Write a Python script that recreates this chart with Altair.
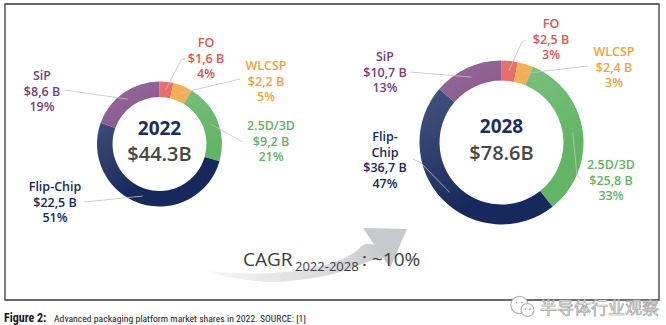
import math
import altair as alt
import pandas as pd

# ---------------- chart values ----------------
segments = ["FO", "WLCSP", "2.5D/3D", "Flip-Chip", "SiP"]
seg_colors = ["#e4534e", "#f2a33a", "#62b565", "#16285c", "#77407d"]
years = ["2022", "2028"]
values_2022 = [1.6, 2.2, 9.2, 22.5, 8.6]
shares_2022 = [4, 5, 21, 51, 19]
values_2028 = [2.5, 2.4, 25.8, 36.7, 10.7]
shares_2028 = [3, 3, 33, 47, 13]
totals = ["$44.3B", "$78.6B"]
cagr_main = "CAGR"
cagr_sub = "2022-2028"
cagr_value = ": ~10%"
caption_bold = "Figure 2:"
caption_rest = "Advanced packaging platform market shares in 2022. SOURCE: [1]"
watermark = "半导体行业观察"

# ---------------- layout (pixels) ----------------
W, H = 666, 325
centers = [(159.5, 144.0), (501.5, 142.5)]
radii = [(62.5, 47.0), (82.0, 62.0)]
label_anchor = [
    [(206, 43), (266, 66), (271, 126), (55, 187), (42, 76)],
    [(551, 24), (614, 52), (611, 165), (385, 137), (385, 57)],
]
name_lines = [
    [["FO"], ["WLCSP"], ["2.5D/3D"], ["Flip-Chip"], ["SiP"]],
    [["FO"], ["WLCSP"], ["2.5D/3D"], ["Flip-", "Chip"], ["SiP"]],
]
leader_start = [
    [[(186, 58), (181, 60)], [(240, 79)], [(243, 142), (239, 140)], [(84, 202)], [(65, 90)]],
    [[(526, 40), (522, 42)], [(588, 66)], [(581, 179), (577, 176)], [(413, 159), (421, 163)], [(410, 72)]],
]
line_h = 15.5
arrow_x = [205, 222, 240, 257, 273, 290, 307, 324, 340, 355, 366, 374, 383]
arrow_lo = [270, 275.5, 279, 281, 282, 281, 279, 276, 272, 267, 262.5, 259.5, 258]
arrow_up = [270, 272.5, 273, 273.5, 273, 271.5, 269, 265, 260, 252, 244, 244.5, 257.5]
head_x = [363, 390, 407]
head_lo = [228, 268, 229]
head_up = [228, 228.6, 229]

FONT = "Open Sans"

all_values = [values_2022, values_2028]
all_shares = [shares_2022, shares_2028]

# ---------------- derived tables ----------------
label_rows, leader_rows = [], []
for d in range(2):
    vals, shares = all_values[d], all_shares[d]
    total = sum(vals)
    cx, cy = centers[d]
    ro, ri = radii[d]
    rm = (ro + ri) / 2
    cum = 0.0
    for i, seg in enumerate(segments):
        ax, ay = label_anchor[d][i]
        lines = name_lines[d][i] + [f"${vals[i]:.1f} B".replace(".", ","), f"{shares[i]}%"]
        for k, t in enumerate(lines):
            label_rows.append({"t": t, "x": ax, "y": ay + k * line_h, "c": seg_colors[i]})
        a = 2 * math.pi * (cum + vals[i] / 2) / total
        cum += vals[i]
        pts = leader_start[d][i] + [(cx + rm * math.sin(a), cy - rm * math.cos(a))]
        for k, (px, py) in enumerate(pts):
            leader_rows.append({"id": f"{d}-{i}", "k": k, "x": px, "y": py})

labels_df = pd.DataFrame(label_rows)
leaders_df = pd.DataFrame(leader_rows)

X = lambda f: alt.X(f, scale=None, axis=None)
Y = lambda f: alt.Y(f, scale=None, axis=None)

layers = []

# frame
layers.append(
    alt.Chart(pd.DataFrame({"a": [0]})).mark_rect(fill=None, stroke="#3a3a3a", strokeWidth=1.3).encode(
        x=alt.value(5), x2=alt.value(659), y=alt.value(4), y2=alt.value(300)
    )
)

# arrow body and head
arrow_df = pd.DataFrame({"x": arrow_x, "lo": arrow_lo, "up": arrow_up})
grad = alt.LinearGradient(
    gradient="linear",
    stops=[alt.GradientStop(color="#f7f7f7", offset=0), alt.GradientStop(color="#c9ccce", offset=1)],
    x1=0, x2=1, y1=0, y2=0,
)
layers.append(
    alt.Chart(arrow_df).mark_area(color=grad, orient="vertical", interpolate="monotone").encode(
        x=X("x:Q"), y=Y("lo:Q"), y2="up:Q"
    )
)
head_df = pd.DataFrame({"x": head_x, "lo": head_lo, "up": head_up})
layers.append(
    alt.Chart(head_df).mark_area(color="#c7cacd", orient="vertical", interpolate="linear").encode(
        x=X("x:Q"), y=Y("lo:Q"), y2="up:Q"
    )
)

# donuts
shade = alt.LinearGradient(
    gradient="linear",
    stops=[
        alt.GradientStop(color="rgba(255,255,255,0.22)", offset=0),
        alt.GradientStop(color="rgba(255,255,255,0.10)", offset=0.45),
        alt.GradientStop(color="rgba(255,255,255,0)", offset=0.8),
    ],
    x1=0, y1=0.1, x2=0.55, y2=1,
)
for d in range(2):
    df = pd.DataFrame({"seg": segments, "value": all_values[d], "idx": list(range(5))})
    ro, ri = radii[d]
    layers.append(
        alt.Chart(df).mark_arc(radius=ro, radius2=ri).encode(
            x=alt.value(centers[d][0]),
            y=alt.value(centers[d][1]),
            theta=alt.Theta("value:Q", stack="normalize"),
            color=alt.Color("seg:N", scale=alt.Scale(domain=segments, range=seg_colors), legend=None),
            order=alt.Order("idx:Q"),
        )
    )
    layers.append(
        alt.Chart(pd.DataFrame({"v": [1]})).mark_arc(radius=ro, radius2=ri, color=shade).encode(
            x=alt.value(centers[d][0]),
            y=alt.value(centers[d][1]),
            theta=alt.Theta("v:Q", stack="normalize"),
        )
    )

# leader lines
layers.append(
    alt.Chart(leaders_df).mark_line(color="#c4c4c4", strokeWidth=0.8).encode(
        x=X("x:Q"), y=Y("y:Q"), detail="id:N", order="k:Q"
    )
)

# segment labels
layers.append(
    alt.Chart(labels_df).mark_text(font=FONT, fontSize=12.5, fontWeight=600, align="center", baseline="middle").encode(
        x=X("x:Q"), y=Y("y:Q"), text="t:N", color=alt.Color("c:N", scale=None)
    )
)

# centre texts
center_df = pd.DataFrame({
    "x": [c[0] for c in centers], "y1": [c[1] - 15.5 for c in centers],
    "y2": [c[1] + 11 for c in centers], "year": years, "total": totals,
})
layers.append(
    alt.Chart(center_df).mark_text(font=FONT, fontSize=19, fontWeight=700, color="#1d2d5f", baseline="middle").encode(
        x=X("x:Q"), y=Y("y1:Q"), text="year:N"
    )
)
layers.append(
    alt.Chart(center_df).mark_text(font=FONT, fontSize=20, fontWeight=600, color="#474747", baseline="middle").encode(
        x=X("x:Q"), y=Y("y2:Q"), text="total:N"
    )
)

# CAGR text
cagr_df = pd.DataFrame({"t": [cagr_main, cagr_value], "x": [243, 362], "y": [266, 266]})
layers.append(
    alt.Chart(cagr_df).mark_text(font=FONT, fontSize=19, fontWeight=400, color="#3d3d3d", align="left", baseline="alphabetic").encode(
        x=X("x:Q"), y=Y("y:Q"), text="t:N"
    )
)
layers.append(
    alt.Chart(pd.DataFrame({"t": [cagr_sub], "x": [295], "y": [271]})).mark_text(
        font=FONT, fontSize=13, fontWeight=400, color="#3d3d3d", align="left", baseline="alphabetic"
    ).encode(x=X("x:Q"), y=Y("y:Q"), text="t:N")
)

# caption
NARROW = "Liberation Sans Narrow, Arial Narrow, Roboto Condensed, Liberation Sans"
layers.append(
    alt.Chart(pd.DataFrame({"t": [caption_bold], "x": [4], "y": [321.5]})).mark_text(
        font=NARROW, fontSize=12, fontWeight="bold", color="#1a1a1a", align="left", baseline="alphabetic"
    ).encode(x=X("x:Q"), y=Y("y:Q"), text="t:N")
)
layers.append(
    alt.Chart(pd.DataFrame({"t": [caption_rest], "x": [54], "y": [321.5]})).mark_text(
        font=NARROW, fontSize=9.7, color="#1a1a1a", align="left", baseline="alphabetic"
    ).encode(x=X("x:Q"), y=Y("y:Q"), text="t:N")
)

# watermark icon
icon_df = pd.DataFrame({"x": [519.5, 527.5], "y": [305.0, 310.0], "s": [300, 170], "k": [0, 1]})
layers.append(
    alt.Chart(icon_df).mark_point(shape="circle", filled=True, fill="#ffffff", stroke="#b3b3b3", strokeWidth=1.2, opacity=1).encode(
        x=X("x:Q"), y=Y("y:Q"), size=alt.Size("s:Q", scale=None), order="k:Q"
    )
)
eyes_df = pd.DataFrame({"x": [516.5, 522, 525.5, 530], "y": [302.5, 302.5, 309, 309]})
layers.append(
    alt.Chart(eyes_df).mark_point(shape="circle", filled=True, color="#b3b3b3", size=4, opacity=1).encode(
        x=X("x:Q"), y=Y("y:Q")
    )
)
layers.append(
    alt.Chart(pd.DataFrame({"t": [watermark], "x": [540], "y": [308.5]})).mark_text(
        font="Noto Sans CJK SC", fontSize=17, fill="#f2f2f2", stroke="#a3a3a3", strokeWidth=0.7,
        align="left", baseline="middle"
    ).encode(x=X("x:Q"), y=Y("y:Q"), text="t:N")
)

chart = alt.layer(*layers).properties(
    width=W, height=H, padding=0, autosize=alt.AutoSizeParams(type="none"), background="#ffffff"
).configure_view(stroke=None)

chart.save("out.html", embed_options={"renderer": "svg", "actions": False})
